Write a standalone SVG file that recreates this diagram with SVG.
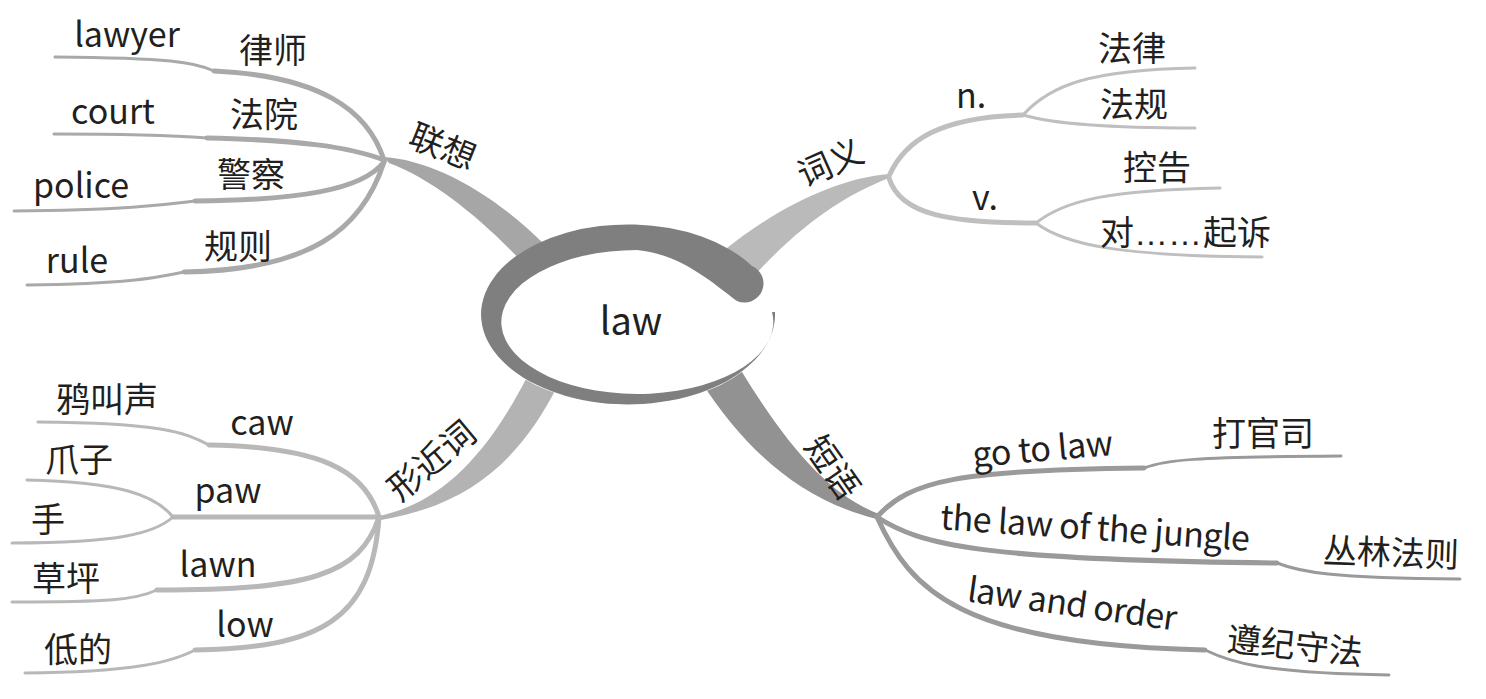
<svg xmlns="http://www.w3.org/2000/svg" width="1486" height="699" viewBox="0 0 1486 699">
<style>
text{font-family:"Noto Sans CJK SC","Noto Sans",sans-serif;fill:#231f20;font-size:34px}
.c{text-anchor:middle}
.l1,.l2{fill:none;stroke-linecap:round}
.l1{stroke-width:5}
.l2{stroke-width:3}
.ga{stroke:#a9a9a9}
.gb{stroke:#bfbfbf}
.gc{stroke:#b8b8b8}
.gd{stroke:#9a9a9a}
</style>
<rect width="1486" height="699" fill="#fff"/>
<g id="connectors">
<path d="M384,157 C430,160 490,190 545,245 L525,265 C485,222 435,180 389,163 Z" fill="#a6a6a6"/>
<path d="M889,174 C840,178 780,205 722,252 L752,278 C800,225 845,195 889,178 Z" fill="#bababa"/>
<path d="M379,516 C430,505 480,470 528,375 L558,385 C520,460 470,505 381,520 Z" fill="#b3b3b3"/>
<path d="M700,380 C745,450 800,500 877,519 L879,514 C830,495 790,450 742,372 Z" fill="#929292"/>
<g class="ga">
<path class="l1" d="M384,160 C368,110 320,76 214,71"/>
<path class="l1" d="M384,160 C350,147 300,140 207,138"/>
<path class="l1" d="M384,162 C362,190 300,200 195,201"/>
<path class="l1" d="M384,162 C362,230 310,270 184,272"/>
<path class="l2" d="M214,71 C195,62 170,58 55,57"/>
<path class="l2" d="M207,138 C180,136 150,134 54,134"/>
<path class="l2" d="M195,201 C170,204 130,210 14,211"/>
<path class="l2" d="M184,272 C160,277 130,284 27,285"/>
</g>
<g class="gb">
<path class="l1" d="M889,176 C905,140 940,117 1023,115"/>
<path class="l1" d="M889,178 C900,215 950,223 1036,223"/>
<path class="l2" d="M1023,115 C1050,85 1090,70 1195,68"/>
<path class="l2" d="M1023,115 C1050,123 1100,128 1195,128"/>
<path class="l2" d="M1036,223 C1065,200 1110,190 1220,188"/>
<path class="l2" d="M1036,223 C1065,245 1120,256 1262,257"/>
</g>
<g class="gc">
<path class="l1" d="M379,517 C365,470 320,447 209,445"/>
<path class="l1" d="M379,517 L173,517"/>
<path class="l1" d="M379,517 C360,575 310,590 157,590"/>
<path class="l1" d="M379,517 C372,620 320,648 195,650"/>
<path class="l2" d="M209,445 C185,432 160,423 38,422"/>
<path class="l2" d="M173,517 C155,495 120,482 27,480"/>
<path class="l2" d="M173,517 C155,533 120,543 12,543"/>
<path class="l2" d="M157,590 C135,600 110,602 12,602"/>
<path class="l2" d="M195,650 C170,663 130,672 25,673"/>
</g>
<g class="gd">
<path class="l1" d="M877,517 C910,480 960,470 1144,468"/>
<path class="l1" d="M877,517 C920,545 980,560 1277,563"/>
<path class="l1" d="M877,517 C910,590 960,645 1205,650"/>
<path class="l2" d="M1144,468 C1165,460 1190,457 1341,456"/>
<path class="l2" d="M1277,563 C1300,572 1330,578 1460,579"/>
<path class="l2" d="M1205,650 C1230,662 1260,673 1389,675"/>
</g>
</g>
<g id="center">
<ellipse cx="628" cy="315" rx="147" ry="90" fill="#fff"/>
<path d="M775,312 A147,90 0 1 1 752,266 A19,19 0 0 1 737,301 C715,285 682,254 637,250 A136,72 0 1 0 772,312 Z" fill="#7f7f7f"/>
<text class="c" x="631" y="335" style="font-size:38px">law</text>
</g>
<g id="n-lianxiang"><text class="c" transform="translate(443,146) rotate(22)" y="13">联想</text></g>
<g id="n-lvshi"><text class="c" x="273" y="63">律师</text></g>
<g id="n-lawyer"><text class="c" x="127" y="47">lawyer</text></g>
<g id="n-fayuan"><text class="c" x="264" y="127">法院</text></g>
<g id="n-court"><text class="c" x="113" y="124">court</text></g>
<g id="n-jingcha"><text class="c" x="251" y="187">警察</text></g>
<g id="n-police"><text class="c" x="81" y="198">police</text></g>
<g id="n-guize"><text class="c" x="238" y="259">规则</text></g>
<g id="n-rule"><text class="c" x="77" y="273">rule</text></g>
<g id="n-ciyi"><text class="c" transform="translate(830,162) rotate(-24)" y="13">词义</text></g>
<g id="n-n"><text class="c" x="971" y="108">n.</text></g>
<g id="n-falv"><text class="c" x="1132" y="61">法律</text></g>
<g id="n-fagui"><text class="c" x="1134" y="117">法规</text></g>
<g id="n-v"><text class="c" x="985" y="210">v.</text></g>
<g id="n-konggao"><text class="c" x="1157" y="180">控告</text></g>
<g id="n-qisu"><text x="1100" y="245">对<tspan style="font-family:'Liberation Sans',sans-serif">……</tspan><tspan x="1203">起诉</tspan></text></g>
<g id="n-xingjinci"><text class="c" transform="translate(431,460) rotate(-40)" y="13">形近词</text></g>
<g id="n-caw"><text class="c" x="262" y="435">caw</text></g>
<g id="n-yajiaosheng"><text class="c" x="107" y="412">鸦叫声</text></g>
<g id="n-paw"><text class="c" x="228" y="503">paw</text></g>
<g id="n-zhuazi"><text class="c" x="79" y="472">爪子</text></g>
<g id="n-shou"><text class="c" x="48" y="532">手</text></g>
<g id="n-lawn"><text class="c" x="218" y="577">lawn</text></g>
<g id="n-caoping"><text class="c" x="66" y="591">草坪</text></g>
<g id="n-low"><text class="c" x="245" y="637">low</text></g>
<g id="n-dide"><text class="c" x="78" y="662">低的</text></g>
<g id="n-duanyu"><text class="c" transform="translate(833,467) rotate(55)" y="13">短语</text></g>
<g id="n-gotolaw"><text class="c" transform="translate(1043,452) rotate(-5)" y="9" textLength="141">go to law</text></g>
<g id="n-daguansi"><text class="c" x="1263" y="446">打官司</text></g>
<g id="n-jungle"><text class="c" transform="translate(1095,531) rotate(4)" y="9" textLength="310">the law of the jungle</text></g>
<g id="n-conglin"><text class="c" transform="translate(1391,552) rotate(2)" y="13">丛林法则</text></g>
<g id="n-lawandorder"><text class="c" transform="translate(1072,606) rotate(8)" y="10" textLength="211">law and order</text></g>
<g id="n-zunji"><text class="c" transform="translate(1295,645) rotate(6)" y="13">遵纪守法</text></g>
</svg>
